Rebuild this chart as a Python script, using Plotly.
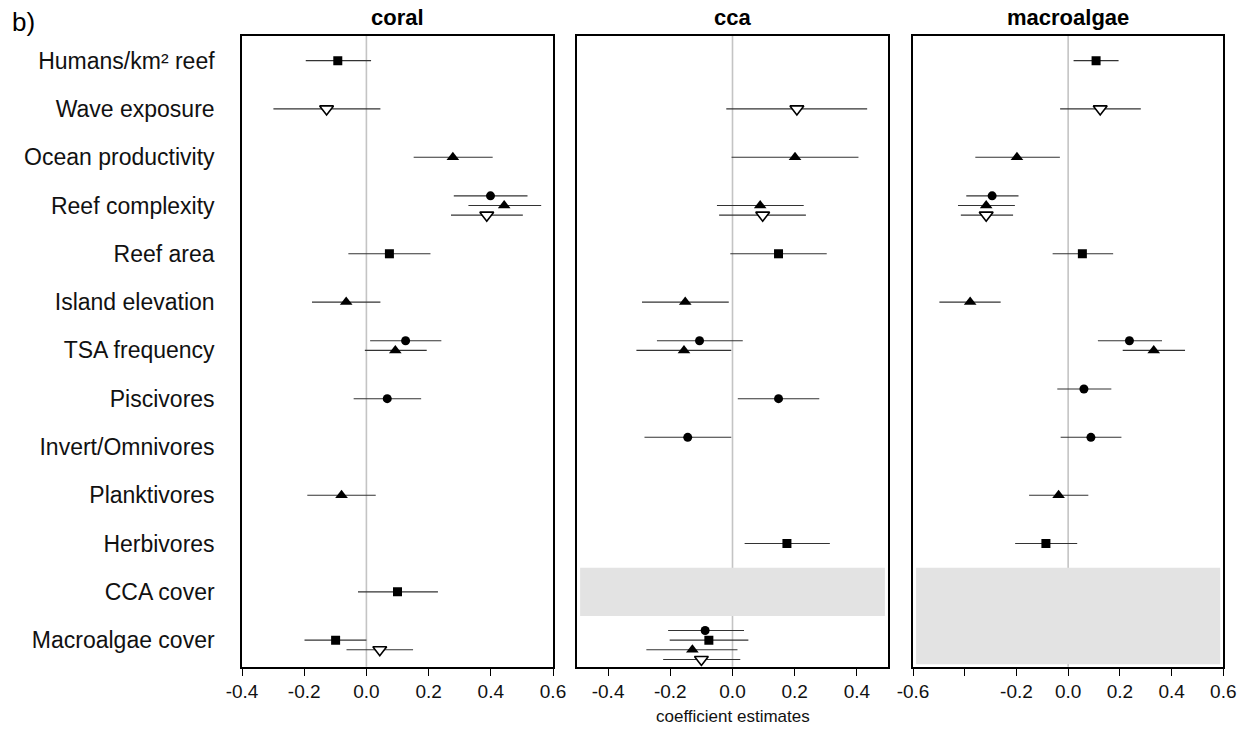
import plotly.graph_objects as go

# ---------------- data ----------------
variables = ["Humans/km² reef", "Wave exposure", "Ocean productivity", "Reef complexity",
             "Reef area", "Island elevation", "TSA frequency", "Piscivores",
             "Invert/Omnivores", "Planktivores", "Herbivores", "CCA cover", "Macroalgae cover"]

panel_titles = ["coral", "cca", "macroalgae"]

# coral
coral_var = ["Humans/km² reef", "Wave exposure", "Ocean productivity", "Reef complexity", "Reef complexity",
             "Reef complexity", "Reef area", "Island elevation", "TSA frequency", "TSA frequency",
             "Piscivores", "Planktivores", "CCA cover", "Macroalgae cover", "Macroalgae cover"]
coral_model = ["square", "invtri", "tri", "circle", "tri", "invtri", "square", "tri", "circle", "tri",
               "circle", "tri", "square", "square", "invtri"]
coral_dodge = [0, 0, 0, -1, 0, 1, 0, 0, -1, 0, 0, 0, 0, 0, 1]
coral_est = [-0.092, -0.128, 0.278, 0.399, 0.443, 0.387, 0.074, -0.065, 0.126, 0.093,
             0.067, -0.080, 0.100, -0.099, 0.043]
coral_lo = [-0.195, -0.299, 0.152, 0.281, 0.328, 0.272, -0.058, -0.175, 0.012, -0.005,
            -0.041, -0.190, -0.027, -0.199, -0.064]
coral_hi = [0.015, 0.045, 0.406, 0.518, 0.562, 0.503, 0.206, 0.045, 0.241, 0.194,
            0.176, 0.030, 0.230, 0.000, 0.150]

# cca
cca_var = ["Wave exposure", "Ocean productivity", "Reef complexity", "Reef complexity", "Reef area",
           "Island elevation", "TSA frequency", "TSA frequency", "Piscivores", "Invert/Omnivores",
           "Herbivores", "Macroalgae cover", "Macroalgae cover", "Macroalgae cover", "Macroalgae cover"]
cca_model = ["invtri", "tri", "tri", "invtri", "square", "tri", "circle", "tri", "circle", "circle",
             "square", "circle", "square", "tri", "invtri"]
cca_dodge = [0, 0, 0, 1, 0, 0, -1, 0, 0, -1, 0, -1, 0, 1, 2]
cca_est = [0.207, 0.201, 0.089, 0.097, 0.148, -0.152, -0.106, -0.156, 0.148, -0.144,
           0.175, -0.088, -0.076, -0.129, -0.100]
cca_lo = [-0.020, -0.003, -0.050, -0.043, -0.007, -0.291, -0.243, -0.309, 0.017, -0.283,
          0.039, -0.207, -0.202, -0.277, -0.223]
cca_hi = [0.433, 0.405, 0.229, 0.236, 0.303, -0.012, 0.033, -0.004, 0.279, -0.004,
          0.313, 0.037, 0.051, 0.016, 0.025]

# macroalgae
mac_var = ["Humans/km² reef", "Wave exposure", "Ocean productivity", "Reef complexity", "Reef complexity",
           "Reef complexity", "Reef area", "Island elevation", "TSA frequency", "TSA frequency",
           "Piscivores", "Invert/Omnivores", "Planktivores", "Herbivores"]
mac_model = ["square", "invtri", "tri", "circle", "tri", "invtri", "square", "tri", "circle", "tri",
             "circle", "circle", "tri", "square"]
mac_dodge = [0, 0, 0, -1, 0, 1, 0, 0, -1, 0, -1, -1, 0, 0]
mac_est = [0.108, 0.124, -0.198, -0.294, -0.317, -0.317, 0.055, -0.379, 0.237, 0.331,
           0.061, 0.088, -0.037, -0.086]
mac_lo = [0.021, -0.031, -0.359, -0.394, -0.426, -0.415, -0.060, -0.498, 0.115, 0.211,
          -0.042, -0.029, -0.151, -0.205]
mac_hi = [0.195, 0.281, -0.032, -0.192, -0.206, -0.213, 0.174, -0.261, 0.363, 0.452,
          0.167, 0.206, 0.078, 0.035]

# rows not modelled in each panel (shaded)
cca_excluded = ["CCA cover"]
mac_excluded = ["CCA cover", "Macroalgae cover"]

x_ranges = [(-0.4, 0.6), (-0.5, 0.5), (-0.6, 0.6)]
x_ticks = [[-0.4, -0.2, 0.0, 0.2, 0.4, 0.6],
           [-0.4, -0.2, 0.0, 0.2, 0.4],
           [-0.6, -0.4, -0.2, 0.0, 0.2, 0.4, 0.6]]
x_ticktext = [["-0.4", "-0.2", "0.0", "0.2", "0.4", "0.6"],
              ["-0.4", "-0.2", "0.0", "0.2", "0.4"],
              ["-0.6", "", "-0.2", "0.0", "0.2", "0.4", "0.6"]]

# ---------------- styling ----------------
W, H = 1250, 731
domains = [(242 / W, 553 / W), (577 / W, 888 / W), (913 / W, 1223.3 / W)]
y_dom = (1 - 666.7 / H, 1 - 36 / H)
DODGE = 0.2
row_of = {v: i for i, v in enumerate(variables)}

symbols = {
    "circle": dict(symbol="circle", size=9, color="black", line=dict(width=0)),
    "square": dict(symbol="square", size=9, color="black", line=dict(width=0)),
    "tri": dict(symbol="triangle-up", size=11, color="black", line=dict(width=0)),
    "invtri": dict(symbol="triangle-down", size=12, color="white", line=dict(color="black", width=1.6)),
}

fig = go.Figure()
panels = [
    (coral_var, coral_model, coral_dodge, coral_est, coral_lo, coral_hi, []),
    (cca_var, cca_model, cca_dodge, cca_est, cca_lo, cca_hi, cca_excluded),
    (mac_var, mac_model, mac_dodge, mac_est, mac_lo, mac_hi, mac_excluded),
]

for p, (vs, ms, ds, es, los, his, excl) in enumerate(panels):
    xa = "x" if p == 0 else f"x{p + 1}"
    ya = "y" if p == 0 else f"y{p + 1}"
    # zero line
    fig.add_shape(type="line", xref=xa, yref="paper", x0=0, x1=0, y0=y_dom[0], y1=y_dom[1],
                  line=dict(color="#c4c4c4", width=1.6), layer="below")
    # shaded excluded rows
    for v in excl:
        r = row_of[v]
        lo_x, hi_x = x_ranges[p]
        pad = (hi_x - lo_x) * 0.01
        y1 = min(r + 0.5, 12.5)
        fig.add_shape(type="rect", xref=xa, yref=ya, x0=lo_x + pad, x1=hi_x - pad,
                      y0=r - 0.5, y1=y1, fillcolor="#e3e3e3", line=dict(width=0), layer="below")
    for model in ["circle", "square", "tri", "invtri"]:
        idx = [i for i, m in enumerate(ms) if m == model]
        if not idx:
            continue
        xs = [es[i] for i in idx]
        ys = [row_of[vs[i]] + ds[i] * DODGE for i in idx]
        fig.add_trace(go.Scatter(
            x=xs, y=ys, mode="markers", xaxis=xa, yaxis=ya, showlegend=False,
            marker=symbols[model],
            error_x=dict(type="data", symmetric=False,
                         array=[his[i] - es[i] for i in idx],
                         arrayminus=[es[i] - los[i] for i in idx],
                         color="#333333", thickness=1.1, width=0),
            hoverinfo="skip"))

font_main = "Liberation Sans, Arial, sans-serif"
layout = dict(width=W, height=H, margin=dict(l=0, r=0, t=0, b=0),
              plot_bgcolor="white", paper_bgcolor="white",
              font=dict(family=font_main, color="black"))
for p in range(3):
    xk = "xaxis" if p == 0 else f"xaxis{p + 1}"
    yk = "yaxis" if p == 0 else f"yaxis{p + 1}"
    layout[xk] = dict(domain=list(domains[p]), range=list(x_ranges[p]), anchor="y" if p == 0 else f"y{p + 1}",
                      tickvals=x_ticks[p], ticktext=x_ticktext[p], ticks="outside", ticklen=7,
                      tickwidth=1.3, tickcolor="black", showgrid=False, zeroline=False,
                      showline=True, linecolor="black", linewidth=1.6, mirror=True,
                      tickfont=dict(size=19, color="#111111"),
                      automargin=False)
    layout[yk] = dict(domain=list(y_dom), range=[12.55, -0.51], anchor="x" if p == 0 else f"x{p + 1}",
                      showgrid=False, zeroline=False, showline=True, linecolor="black", linewidth=1.6,
                      mirror=True, automargin=False,
                      tickvals=list(range(len(variables))) if p == 0 else [],
                      ticktext=variables if p == 0 else [],
                      ticks="", showticklabels=(p == 0),
                      tickfont=dict(size=23, color="#111111"), ticklabelstandoff=21)
fig.update_layout(**layout)

# panel titles
for p, t in enumerate(panel_titles):
    cx = (domains[p][0] + domains[p][1]) / 2
    fig.add_annotation(text=f"<b>{t}</b>", x=cx, y=1 - 18 / H, xref="paper", yref="paper",
                       showarrow=False, font=dict(size=22), xanchor="center", yanchor="middle")
fig.add_annotation(text="b)", x=10 / W, y=1 - 22 / H, xref="paper", yref="paper", showarrow=False,
                   font=dict(size=26), xanchor="left", yanchor="middle")
fig.add_annotation(text="coefficient estimates", x=(domains[1][0] + domains[1][1]) / 2, y=1 - 716 / H,
                   xref="paper", yref="paper", showarrow=False,
                   font=dict(size=17, color="#111111"),
                   xanchor="center", yanchor="middle")

fig.write_html("out.html")
